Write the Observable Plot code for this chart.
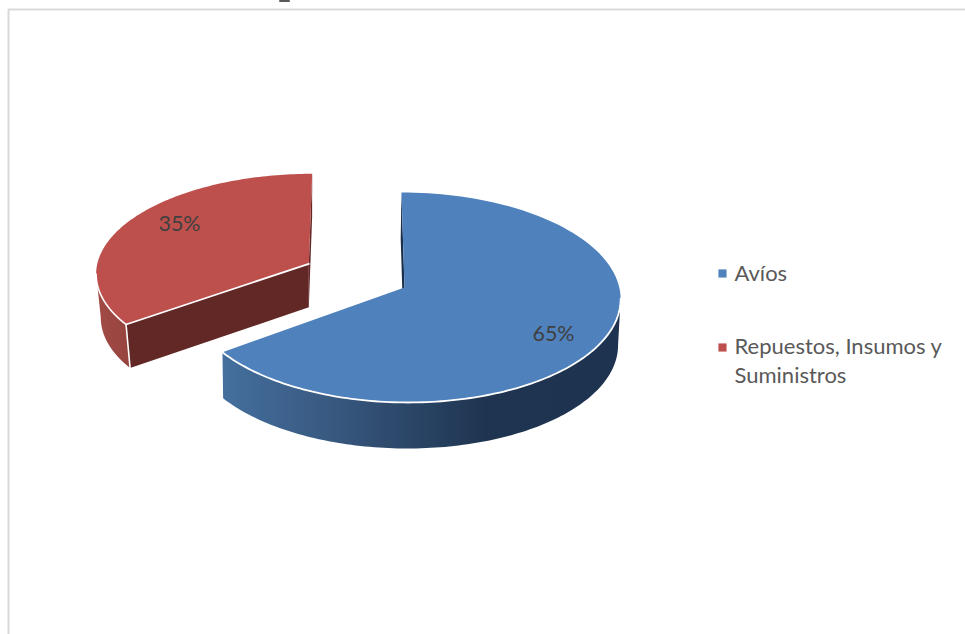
<!DOCTYPE html>
<html>
<head>
<meta charset="utf-8">
<script src="https://cdn.jsdelivr.net/npm/d3@7"></script>
<script src="https://cdn.jsdelivr.net/npm/@observablehq/plot@0.6"></script>
<style>
  html, body { margin: 0; padding: 0; background: #fff; }
  svg { display: block; }
</style>
</head>
<body>
<div id="chart"></div>
<script>
// Shares of purchases by category
const categories = ["Avíos", "Repuestos, Insumos y Suministros"];
const shares = [65, 35];
const legendLines = [["Avíos"], ["Repuestos, Insumos y", "Suministros"]];
const topColors = ["#4f81bd", "#bd4f4c"];
const faceColors = ["#1b2f4a", "#622825"];

// Perspective view of each disc: apex position, radii, tilt and rim depth
const views = [
  {ax: 404, ay: 287, A: 214.8, B: 104.05, k: -0.0952, s: 3.3, depth: 46, vx: 302, vs: 0.992},
  {ax: 308.3, ay: 263.3, A: 211.5, B: 97.9, k: -0.088, s: -3.7, depth: 43.5, vx: 308, vs: 0.978}
];

// A point on the rim at fraction r of the radius, angle a clockwise from the top
function project(view, a, r = 1, lower = false) {
  const u = r * Math.sin(a), v = -r * Math.cos(a);
  const w = 1 + view.k * v;
  const x = view.ax + (view.A * u + view.s * v) / w;
  const y = view.ay + (view.B * v) / w;
  return lower
    ? {x: view.vx + (x - view.vx) * view.vs, y: y + view.depth}
    : {x, y};
}

const arc = (view, a0, a1, lower = false) =>
  d3.range(0, 121).map(i => project(view, a0 + (a1 - a0) * i / 120, 1, lower));

const apex = (view, lower = false) => project(view, 0, 0, lower);

// Angle at which a disc's outline turns back, so its rim joins the top smoothly
function silhouetteAngle(view, a0, a1, sign) {
  const angles = d3.range(0, 361).map(i => a0 + (a1 - a0) * i / 360);
  return d3.greatest(angles, a => sign * project(view, a).x);
}

// Slice angles: the first slice starts at twelve o'clock
const turn = 2 * Math.PI / d3.sum(shares);
const blueEnd = shares[0] * turn;
const redStart = blueEnd;
const redEnd = 2 * Math.PI;

const [blue, red] = views;
const blueRight = silhouetteAngle(blue, 0, blueEnd, 1);
const redLeft = silhouetteAngle(red, redStart, redEnd, -1);

const blueTop = [apex(blue), ...arc(blue, 0, blueEnd), apex(blue)];
const blueRim = [...arc(blue, blueRight, blueEnd), ...arc(blue, blueRight, blueEnd, true).reverse()];
const blueEndFace = [apex(blue), project(blue, 0), project(blue, 0, 1, true), apex(blue, true)];
const blueFront = arc(blue, blueRight, blueEnd);

const redTop = [apex(red), ...arc(red, redStart, redEnd), apex(red)];
const redRim = [...arc(red, redStart, redLeft), ...arc(red, redStart, redLeft, true).reverse()];
const redEndFace = [apex(red), project(red, redEnd), project(red, redEnd, 1, true), apex(red, true)];
const redCutFace = [apex(red), project(red, redStart), project(red, redStart, 1, true), apex(red, true)];
const redFront = arc(red, redStart, redLeft);
const redCorner = [project(red, redStart), project(red, redStart, 1, true)];
const redCut = [apex(red), project(red, redStart)];

const xy = {x: "x", y: "y"};
const face = (pts, fill) =>
  Plot.line(pts, {...xy, fill, stroke: "none", curve: "linear-closed"});
const edge = (pts, strokeWidth = 1.4) =>
  Plot.line(pts, {...xy, stroke: "#fff", strokeWidth, curve: "linear"});

// Shading along the rim of each slice, dark towards the right
function gradient(id, stops) {
  return () => {
    const ns = "http://www.w3.org/2000/svg";
    const defs = document.createElementNS(ns, "defs");
    const g = document.createElementNS(ns, "linearGradient");
    g.setAttribute("id", id);
    for (const [offset, color] of stops) {
      const s = document.createElementNS(ns, "stop");
      s.setAttribute("offset", offset);
      s.setAttribute("stop-color", color);
      g.appendChild(s);
    }
    defs.appendChild(g);
    return defs;
  };
}

const legendRows = legendLines.flatMap((lines, i) =>
  lines.map((text, j) => ({text, x: 734, y: (i === 0 ? 273 : 346) + j * 29})));
const legendKeys = categories.map((name, i) => ({name, x: 722, y: i === 0 ? 273 : 347, color: topColors[i]}));

const labelAnchors = [
  {x: 553, y: 334, text: `${shares[0]}%`},
  {x: 179, y: 224, text: `${shares[1]}%`}
];

const chart = Plot.plot({
  width: 965,
  height: 634,
  margin: 0,
  style: {background: "#fff", fontFamily: "Lato, sans-serif", overflow: "hidden"},
  x: {domain: [0, 965], range: [0, 965], axis: null},
  y: {domain: [0, 634], range: [0, 634], axis: null},
  marks: [
    gradient("rimBlue", [[0, "#446f9e"], [0.28, "#38587f"], [0.48, "#2a4566"], [0.66, "#1f3450"], [1, "#1e3350"]]),
    gradient("rimRed", [[0, "#a24a46"], [1, "#96443f"]]),

    // Chart frame, and the foot of a heading cut off above it
    Plot.line([{x: 8, y: 640}, {x: 8, y: 9}, {x: 970, y: 9}],
      {...xy, stroke: "#d9d9d9", strokeWidth: 2}),
    Plot.line([{x: 279.5, y: 0.5}, {x: 288.5, y: 0.5}], {...xy, stroke: "#595959", strokeWidth: 2}),

    // Red slice, pulled away from the disc
    face(redEndFace, faceColors[1]),
    face(redRim, "url(#rimRed)"),
    face(redCutFace, faceColors[1]),
    face(redTop, topColors[1]),
    edge(redFront, 1.6),
    edge(redCorner, 1.6),
    edge(redCut, 1.8),

    // Blue slice
    face(blueEndFace, faceColors[0]),
    face(blueRim, "url(#rimBlue)"),
    face(blueTop, topColors[0]),
    edge(blueFront, 1.8),

    // Value labels
    Plot.text(labelAnchors, {...xy, text: "text", fontSize: 21.5, fill: "#404040", textAnchor: "middle", lineAnchor: "middle"}),

    // Legend
    Plot.dot(legendKeys, {...xy, symbol: "square", r: 4.6, fill: "color", stroke: "none"}),
    Plot.text(legendRows, {...xy, text: "text", fontSize: 22, fill: "#595959", textAnchor: "start", lineAnchor: "middle"})
  ]
});

document.getElementById("chart").appendChild(chart);
</script>
</body>
</html>
